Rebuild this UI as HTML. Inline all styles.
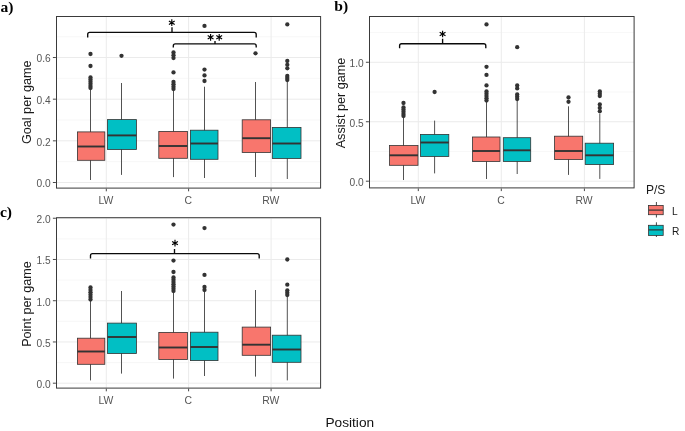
<!DOCTYPE html>
<html><head><meta charset="utf-8"><title>Boxplots</title>
<style>
html,body{margin:0;padding:0;background:#fff;}
body{width:685px;height:431px;overflow:hidden;font-family:"Liberation Sans",sans-serif;}
svg{display:block;font-family:"Liberation Sans",sans-serif;opacity:0.999;will-change:transform;}
</style></head><body>
<svg width="685" height="431" viewBox="0 0 685 431">
<rect width="685" height="431" fill="#fff"/>
<rect x="56.5" y="16.5" width="264.1" height="171.6" fill="#fff"/>
<line x1="56.5" x2="320.6" y1="161.67" y2="161.67" stroke="#F2F2F2" stroke-width="0.6"/>
<line x1="56.5" x2="320.6" y1="120.01" y2="120.01" stroke="#F2F2F2" stroke-width="0.6"/>
<line x1="56.5" x2="320.6" y1="78.35" y2="78.35" stroke="#F2F2F2" stroke-width="0.6"/>
<line x1="56.5" x2="320.6" y1="36.69" y2="36.69" stroke="#F2F2F2" stroke-width="0.6"/>
<line x1="56.5" x2="320.6" y1="182.5" y2="182.5" stroke="#EBEBEB" stroke-width="1"/>
<line x1="56.5" x2="320.6" y1="140.84" y2="140.84" stroke="#EBEBEB" stroke-width="1"/>
<line x1="56.5" x2="320.6" y1="99.18" y2="99.18" stroke="#EBEBEB" stroke-width="1"/>
<line x1="56.5" x2="320.6" y1="57.52" y2="57.52" stroke="#EBEBEB" stroke-width="1"/>
<line x1="106.3" x2="106.3" y1="16.5" y2="188.1" stroke="#EBEBEB" stroke-width="1"/>
<line x1="188.6" x2="188.6" y1="16.5" y2="188.1" stroke="#EBEBEB" stroke-width="1"/>
<line x1="271.1" x2="271.1" y1="16.5" y2="188.1" stroke="#EBEBEB" stroke-width="1"/>
<line x1="90.5" x2="90.5" y1="85" y2="180" stroke="#333333" stroke-width="0.85"/>
<rect x="77.4" y="131.9" width="27.4" height="28.4" fill="#F8766D" stroke="#333333" stroke-width="0.8"/>
<line x1="77.4" x2="104.8" y1="146.5" y2="146.5" stroke="#333333" stroke-width="1.9"/>
<circle cx="90.5" cy="54" r="2.15" fill="#333333"/>
<circle cx="90.5" cy="66" r="2.15" fill="#333333"/>
<circle cx="90.5" cy="77.5" r="2.15" fill="#333333"/>
<circle cx="90.5" cy="79.6" r="2.15" fill="#333333"/>
<circle cx="90.5" cy="81.7" r="2.15" fill="#333333"/>
<circle cx="90.5" cy="83.8" r="2.15" fill="#333333"/>
<circle cx="90.5" cy="85.9" r="2.15" fill="#333333"/>
<circle cx="90.5" cy="88" r="2.15" fill="#333333"/>
<line x1="121.5" x2="121.5" y1="83" y2="174.9" stroke="#333333" stroke-width="0.85"/>
<rect x="107.5" y="119.6" width="28.9" height="29.9" fill="#00BFC4" stroke="#333333" stroke-width="0.8"/>
<line x1="107.5" x2="136.4" y1="135.4" y2="135.4" stroke="#333333" stroke-width="1.9"/>
<circle cx="121.5" cy="55.8" r="2.15" fill="#333333"/>
<line x1="173.5" x2="173.5" y1="88" y2="177.1" stroke="#333333" stroke-width="0.85"/>
<rect x="158.8" y="131.4" width="28.6" height="26.9" fill="#F8766D" stroke="#333333" stroke-width="0.8"/>
<line x1="158.8" x2="187.4" y1="146" y2="146" stroke="#333333" stroke-width="1.9"/>
<circle cx="173.5" cy="52.5" r="2.15" fill="#333333"/>
<circle cx="173.5" cy="55.25" r="2.15" fill="#333333"/>
<circle cx="173.5" cy="58" r="2.15" fill="#333333"/>
<circle cx="173.5" cy="72.4" r="2.15" fill="#333333"/>
<circle cx="173.5" cy="82" r="2.15" fill="#333333"/>
<circle cx="173.5" cy="84.33" r="2.15" fill="#333333"/>
<circle cx="173.5" cy="86.67" r="2.15" fill="#333333"/>
<circle cx="173.5" cy="89" r="2.15" fill="#333333"/>
<line x1="204.5" x2="204.5" y1="86.7" y2="178" stroke="#333333" stroke-width="0.85"/>
<rect x="190.4" y="130.2" width="27.6" height="29.1" fill="#00BFC4" stroke="#333333" stroke-width="0.8"/>
<line x1="190.4" x2="218" y1="143.5" y2="143.5" stroke="#333333" stroke-width="1.9"/>
<circle cx="204.5" cy="25.9" r="2.15" fill="#333333"/>
<circle cx="204.5" cy="69.6" r="2.15" fill="#333333"/>
<circle cx="204.5" cy="75.4" r="2.15" fill="#333333"/>
<circle cx="204.5" cy="81" r="2.15" fill="#333333"/>
<line x1="255.5" x2="255.5" y1="82" y2="177" stroke="#333333" stroke-width="0.85"/>
<rect x="242.2" y="119.8" width="28.4" height="32.7" fill="#F8766D" stroke="#333333" stroke-width="0.8"/>
<line x1="242.2" x2="270.6" y1="138.2" y2="138.2" stroke="#333333" stroke-width="1.9"/>
<circle cx="255.5" cy="53.3" r="2.15" fill="#333333"/>
<line x1="287.3" x2="287.3" y1="80" y2="179" stroke="#333333" stroke-width="0.85"/>
<rect x="272.3" y="127.4" width="28.7" height="31.1" fill="#00BFC4" stroke="#333333" stroke-width="0.8"/>
<line x1="272.3" x2="301" y1="143.5" y2="143.5" stroke="#333333" stroke-width="1.9"/>
<circle cx="287.3" cy="24.4" r="2.15" fill="#333333"/>
<circle cx="287.3" cy="61" r="2.15" fill="#333333"/>
<circle cx="287.3" cy="64.8" r="2.15" fill="#333333"/>
<circle cx="287.3" cy="68.3" r="2.15" fill="#333333"/>
<circle cx="287.3" cy="76" r="2.15" fill="#333333"/>
<circle cx="287.3" cy="78" r="2.15" fill="#333333"/>
<circle cx="287.3" cy="80" r="2.15" fill="#333333"/>
<path d="M87.7 37.4 V34.4 Q87.7 32.4 89.7 32.4 H254.2 Q256.2 32.4 256.2 34.4 V37.4 M172 32.4 V27.2" fill="none" stroke="#0a0a0a" stroke-width="1.35"/>
<path d="M171.8 19.35 V26.05 M168.9 21.02 L174.7 24.38 M168.9 24.38 L174.7 21.02" fill="none" stroke="#000" stroke-width="1.15"/>
<path d="M173.3 47.5 V45.9 Q173.3 43.9 175.3 43.9 H254.2 Q256.2 43.9 256.2 45.9 V47.5 M215 43.9 V40.9" fill="none" stroke="#0a0a0a" stroke-width="1.35"/>
<path d="M210.6 33.95 V40.65 M207.7 35.62 L213.5 38.97 M207.7 38.97 L213.5 35.62" fill="none" stroke="#000" stroke-width="1.15"/>
<path d="M219.2 33.95 V40.65 M216.3 35.62 L222.1 38.97 M216.3 38.97 L222.1 35.62" fill="none" stroke="#000" stroke-width="1.15"/>
<rect x="56.5" y="16.5" width="264.1" height="171.6" fill="none" stroke="#3a3a3a" stroke-width="1"/>
<line x1="52.9" x2="55.9" y1="182.5" y2="182.5" stroke="#333333" stroke-width="0.9"/>
<text x="50.7" y="187.4" text-anchor="end" font-size="10.2" fill="#555555">0.0</text>
<line x1="52.9" x2="55.9" y1="140.84" y2="140.84" stroke="#333333" stroke-width="0.9"/>
<text x="50.7" y="145.74" text-anchor="end" font-size="10.2" fill="#555555">0.2</text>
<line x1="52.9" x2="55.9" y1="99.18" y2="99.18" stroke="#333333" stroke-width="0.9"/>
<text x="50.7" y="104.08" text-anchor="end" font-size="10.2" fill="#555555">0.4</text>
<line x1="52.9" x2="55.9" y1="57.52" y2="57.52" stroke="#333333" stroke-width="0.9"/>
<text x="50.7" y="62.42" text-anchor="end" font-size="10.2" fill="#555555">0.6</text>
<line x1="106.3" x2="106.3" y1="188.7" y2="191.3" stroke="#333333" stroke-width="0.9"/>
<text x="105.9" y="203.8" text-anchor="middle" font-size="10.4" fill="#555555">LW</text>
<line x1="188.6" x2="188.6" y1="188.7" y2="191.3" stroke="#333333" stroke-width="0.9"/>
<text x="188.2" y="203.8" text-anchor="middle" font-size="10.4" fill="#555555">C</text>
<line x1="271.1" x2="271.1" y1="188.7" y2="191.3" stroke="#333333" stroke-width="0.9"/>
<text x="270.7" y="203.8" text-anchor="middle" font-size="10.4" fill="#555555">RW</text>
<text transform="translate(31 102.3) rotate(-90)" text-anchor="middle" font-size="12.65" fill="#1a1a1a">Goal per game</text>
<rect x="369.5" y="16.5" width="264.6" height="171.4" fill="#fff"/>
<line x1="369.5" x2="634.1" y1="151.47" y2="151.47" stroke="#F2F2F2" stroke-width="0.6"/>
<line x1="369.5" x2="634.1" y1="92.01" y2="92.01" stroke="#F2F2F2" stroke-width="0.6"/>
<line x1="369.5" x2="634.1" y1="32.55" y2="32.55" stroke="#F2F2F2" stroke-width="0.6"/>
<line x1="369.5" x2="634.1" y1="181.2" y2="181.2" stroke="#EBEBEB" stroke-width="1"/>
<line x1="369.5" x2="634.1" y1="121.74" y2="121.74" stroke="#EBEBEB" stroke-width="1"/>
<line x1="369.5" x2="634.1" y1="62.28" y2="62.28" stroke="#EBEBEB" stroke-width="1"/>
<line x1="418.3" x2="418.3" y1="16.5" y2="187.9" stroke="#EBEBEB" stroke-width="1"/>
<line x1="501.3" x2="501.3" y1="16.5" y2="187.9" stroke="#EBEBEB" stroke-width="1"/>
<line x1="584.4" x2="584.4" y1="16.5" y2="187.9" stroke="#EBEBEB" stroke-width="1"/>
<line x1="403.5" x2="403.5" y1="116" y2="180" stroke="#333333" stroke-width="0.85"/>
<rect x="389.5" y="145.5" width="28.5" height="19.8" fill="#F8766D" stroke="#333333" stroke-width="0.8"/>
<line x1="389.5" x2="418" y1="155.3" y2="155.3" stroke="#333333" stroke-width="1.9"/>
<circle cx="403.5" cy="103" r="2.15" fill="#333333"/>
<circle cx="403.5" cy="107.5" r="2.15" fill="#333333"/>
<circle cx="403.5" cy="109.62" r="2.15" fill="#333333"/>
<circle cx="403.5" cy="111.75" r="2.15" fill="#333333"/>
<circle cx="403.5" cy="113.88" r="2.15" fill="#333333"/>
<circle cx="403.5" cy="116" r="2.15" fill="#333333"/>
<line x1="434.6" x2="434.6" y1="120.6" y2="173.4" stroke="#333333" stroke-width="0.85"/>
<rect x="420.5" y="134.4" width="28.3" height="22.1" fill="#00BFC4" stroke="#333333" stroke-width="0.8"/>
<line x1="420.5" x2="448.8" y1="142.5" y2="142.5" stroke="#333333" stroke-width="1.9"/>
<circle cx="434.6" cy="92" r="2.15" fill="#333333"/>
<line x1="486.5" x2="486.5" y1="101" y2="179" stroke="#333333" stroke-width="0.85"/>
<rect x="472.5" y="137" width="27.5" height="24.5" fill="#F8766D" stroke="#333333" stroke-width="0.8"/>
<line x1="472.5" x2="500" y1="151" y2="151" stroke="#333333" stroke-width="1.9"/>
<circle cx="486.5" cy="24.4" r="2.15" fill="#333333"/>
<circle cx="486.5" cy="66.8" r="2.15" fill="#333333"/>
<circle cx="486.5" cy="74.9" r="2.15" fill="#333333"/>
<circle cx="486.5" cy="85.4" r="2.15" fill="#333333"/>
<circle cx="486.5" cy="91.5" r="2.15" fill="#333333"/>
<circle cx="486.5" cy="93.75" r="2.15" fill="#333333"/>
<circle cx="486.5" cy="96" r="2.15" fill="#333333"/>
<circle cx="486.5" cy="98.25" r="2.15" fill="#333333"/>
<circle cx="486.5" cy="100.5" r="2.15" fill="#333333"/>
<line x1="517.2" x2="517.2" y1="100" y2="174" stroke="#333333" stroke-width="0.85"/>
<rect x="503.3" y="137.7" width="27.4" height="23.8" fill="#00BFC4" stroke="#333333" stroke-width="0.8"/>
<line x1="503.3" x2="530.7" y1="150.3" y2="150.3" stroke="#333333" stroke-width="1.9"/>
<circle cx="517.2" cy="47.2" r="2.15" fill="#333333"/>
<circle cx="517.2" cy="85.4" r="2.15" fill="#333333"/>
<circle cx="517.2" cy="88.4" r="2.15" fill="#333333"/>
<circle cx="517.2" cy="94.5" r="2.15" fill="#333333"/>
<circle cx="517.2" cy="96.75" r="2.15" fill="#333333"/>
<circle cx="517.2" cy="99" r="2.15" fill="#333333"/>
<line x1="568.5" x2="568.5" y1="106.3" y2="174.9" stroke="#333333" stroke-width="0.85"/>
<rect x="554.6" y="136.2" width="28.1" height="23.3" fill="#F8766D" stroke="#333333" stroke-width="0.8"/>
<line x1="554.6" x2="582.7" y1="151" y2="151" stroke="#333333" stroke-width="1.9"/>
<circle cx="568.5" cy="97.5" r="2.15" fill="#333333"/>
<circle cx="568.5" cy="101.8" r="2.15" fill="#333333"/>
<line x1="599.8" x2="599.8" y1="113.8" y2="178.9" stroke="#333333" stroke-width="0.85"/>
<rect x="585.2" y="143.2" width="28.4" height="21.4" fill="#00BFC4" stroke="#333333" stroke-width="0.8"/>
<line x1="585.2" x2="613.6" y1="155.3" y2="155.3" stroke="#333333" stroke-width="1.9"/>
<circle cx="599.8" cy="91.5" r="2.15" fill="#333333"/>
<circle cx="599.8" cy="93.75" r="2.15" fill="#333333"/>
<circle cx="599.8" cy="96" r="2.15" fill="#333333"/>
<circle cx="599.8" cy="104.4" r="2.15" fill="#333333"/>
<circle cx="599.8" cy="108" r="2.15" fill="#333333"/>
<circle cx="599.8" cy="111.3" r="2.15" fill="#333333"/>
<path d="M399.6 48.2 V45.7 Q399.6 43.7 401.6 43.7 H483.8 Q485.8 43.7 485.8 45.7 V48.2 M442.6 43.7 V38.7" fill="none" stroke="#0a0a0a" stroke-width="1.35"/>
<path d="M442.6 30.65 V37.35 M439.7 32.33 L445.5 35.67 M439.7 35.67 L445.5 32.33" fill="none" stroke="#000" stroke-width="1.15"/>
<rect x="369.5" y="16.5" width="264.6" height="171.4" fill="none" stroke="#3a3a3a" stroke-width="1"/>
<line x1="365.9" x2="368.9" y1="181.2" y2="181.2" stroke="#333333" stroke-width="0.9"/>
<text x="363.7" y="186.1" text-anchor="end" font-size="10.2" fill="#555555">0.0</text>
<line x1="365.9" x2="368.9" y1="121.74" y2="121.74" stroke="#333333" stroke-width="0.9"/>
<text x="363.7" y="126.64" text-anchor="end" font-size="10.2" fill="#555555">0.5</text>
<line x1="365.9" x2="368.9" y1="62.28" y2="62.28" stroke="#333333" stroke-width="0.9"/>
<text x="363.7" y="67.18" text-anchor="end" font-size="10.2" fill="#555555">1.0</text>
<line x1="418.3" x2="418.3" y1="188.5" y2="191.1" stroke="#333333" stroke-width="0.9"/>
<text x="417.9" y="203.8" text-anchor="middle" font-size="10.4" fill="#555555">LW</text>
<line x1="501.3" x2="501.3" y1="188.5" y2="191.1" stroke="#333333" stroke-width="0.9"/>
<text x="500.9" y="203.8" text-anchor="middle" font-size="10.4" fill="#555555">C</text>
<line x1="584.4" x2="584.4" y1="188.5" y2="191.1" stroke="#333333" stroke-width="0.9"/>
<text x="584" y="203.8" text-anchor="middle" font-size="10.4" fill="#555555">RW</text>
<text transform="translate(344.7 103) rotate(-90)" text-anchor="middle" font-size="12.65" fill="#1a1a1a">Assist per game</text>
<rect x="56.5" y="217.7" width="264.1" height="170.4" fill="#fff"/>
<line x1="56.5" x2="320.6" y1="362.58" y2="362.58" stroke="#F2F2F2" stroke-width="0.6"/>
<line x1="56.5" x2="320.6" y1="321.34" y2="321.34" stroke="#F2F2F2" stroke-width="0.6"/>
<line x1="56.5" x2="320.6" y1="280.1" y2="280.1" stroke="#F2F2F2" stroke-width="0.6"/>
<line x1="56.5" x2="320.6" y1="238.86" y2="238.86" stroke="#F2F2F2" stroke-width="0.6"/>
<line x1="56.5" x2="320.6" y1="383.2" y2="383.2" stroke="#EBEBEB" stroke-width="1"/>
<line x1="56.5" x2="320.6" y1="341.96" y2="341.96" stroke="#EBEBEB" stroke-width="1"/>
<line x1="56.5" x2="320.6" y1="300.72" y2="300.72" stroke="#EBEBEB" stroke-width="1"/>
<line x1="56.5" x2="320.6" y1="259.48" y2="259.48" stroke="#EBEBEB" stroke-width="1"/>
<line x1="56.5" x2="320.6" y1="218.24" y2="218.24" stroke="#EBEBEB" stroke-width="1"/>
<line x1="106.3" x2="106.3" y1="217.7" y2="388.1" stroke="#EBEBEB" stroke-width="1"/>
<line x1="188.6" x2="188.6" y1="217.7" y2="388.1" stroke="#EBEBEB" stroke-width="1"/>
<line x1="271.1" x2="271.1" y1="217.7" y2="388.1" stroke="#EBEBEB" stroke-width="1"/>
<line x1="90.5" x2="90.5" y1="300" y2="380.4" stroke="#333333" stroke-width="0.85"/>
<rect x="77.4" y="338.2" width="27.4" height="26.1" fill="#F8766D" stroke="#333333" stroke-width="0.8"/>
<line x1="77.4" x2="104.8" y1="351.5" y2="351.5" stroke="#333333" stroke-width="1.9"/>
<circle cx="90.5" cy="287.5" r="2.15" fill="#333333"/>
<circle cx="90.5" cy="289.9" r="2.15" fill="#333333"/>
<circle cx="90.5" cy="292.3" r="2.15" fill="#333333"/>
<circle cx="90.5" cy="294.7" r="2.15" fill="#333333"/>
<circle cx="90.5" cy="297.1" r="2.15" fill="#333333"/>
<circle cx="90.5" cy="299.5" r="2.15" fill="#333333"/>
<line x1="121.5" x2="121.5" y1="291" y2="373.6" stroke="#333333" stroke-width="0.85"/>
<rect x="107.5" y="323.1" width="28.9" height="30.4" fill="#00BFC4" stroke="#333333" stroke-width="0.8"/>
<line x1="107.5" x2="136.4" y1="337" y2="337" stroke="#333333" stroke-width="1.9"/>
<line x1="173.5" x2="173.5" y1="292" y2="378.6" stroke="#333333" stroke-width="0.85"/>
<rect x="158.8" y="332.4" width="28.6" height="27.1" fill="#F8766D" stroke="#333333" stroke-width="0.8"/>
<line x1="158.8" x2="187.4" y1="347.5" y2="347.5" stroke="#333333" stroke-width="1.9"/>
<circle cx="173.5" cy="224.6" r="2.15" fill="#333333"/>
<circle cx="173.5" cy="260.6" r="2.15" fill="#333333"/>
<circle cx="173.5" cy="272" r="2.15" fill="#333333"/>
<circle cx="173.5" cy="277.5" r="2.15" fill="#333333"/>
<circle cx="173.5" cy="279.75" r="2.15" fill="#333333"/>
<circle cx="173.5" cy="282" r="2.15" fill="#333333"/>
<circle cx="173.5" cy="284.25" r="2.15" fill="#333333"/>
<circle cx="173.5" cy="286.5" r="2.15" fill="#333333"/>
<circle cx="173.5" cy="288.75" r="2.15" fill="#333333"/>
<circle cx="173.5" cy="291" r="2.15" fill="#333333"/>
<line x1="204.5" x2="204.5" y1="291.7" y2="376" stroke="#333333" stroke-width="0.85"/>
<rect x="190.4" y="332.2" width="27.6" height="28.4" fill="#00BFC4" stroke="#333333" stroke-width="0.8"/>
<line x1="190.4" x2="218" y1="347" y2="347" stroke="#333333" stroke-width="1.9"/>
<circle cx="204.5" cy="228.1" r="2.15" fill="#333333"/>
<circle cx="204.5" cy="274.9" r="2.15" fill="#333333"/>
<circle cx="204.5" cy="287" r="2.15" fill="#333333"/>
<circle cx="204.5" cy="290" r="2.15" fill="#333333"/>
<line x1="255.5" x2="255.5" y1="290" y2="376.6" stroke="#333333" stroke-width="0.85"/>
<rect x="242.2" y="327.1" width="28.4" height="28.2" fill="#F8766D" stroke="#333333" stroke-width="0.8"/>
<line x1="242.2" x2="270.6" y1="344.7" y2="344.7" stroke="#333333" stroke-width="1.9"/>
<line x1="287.3" x2="287.3" y1="295" y2="380.4" stroke="#333333" stroke-width="0.85"/>
<rect x="272.3" y="335.2" width="28.7" height="27.1" fill="#00BFC4" stroke="#333333" stroke-width="0.8"/>
<line x1="272.3" x2="301" y1="349.5" y2="349.5" stroke="#333333" stroke-width="1.9"/>
<circle cx="287.3" cy="259.5" r="2.15" fill="#333333"/>
<circle cx="287.3" cy="284.7" r="2.15" fill="#333333"/>
<circle cx="287.3" cy="290.5" r="2.15" fill="#333333"/>
<circle cx="287.3" cy="292.75" r="2.15" fill="#333333"/>
<circle cx="287.3" cy="295" r="2.15" fill="#333333"/>
<path d="M90.5 258.6 V255.6 Q90.5 253.6 92.5 253.6 H257.2 Q259.2 253.6 259.2 255.6 V258.6 M174.5 253.6 V249" fill="none" stroke="#0a0a0a" stroke-width="1.35"/>
<path d="M175 239.75 V246.45 M172.1 241.42 L177.9 244.78 M172.1 244.78 L177.9 241.42" fill="none" stroke="#000" stroke-width="1.15"/>
<rect x="56.5" y="217.7" width="264.1" height="170.4" fill="none" stroke="#3a3a3a" stroke-width="1"/>
<line x1="52.9" x2="55.9" y1="383.2" y2="383.2" stroke="#333333" stroke-width="0.9"/>
<text x="50.7" y="388.1" text-anchor="end" font-size="10.2" fill="#555555">0.0</text>
<line x1="52.9" x2="55.9" y1="341.96" y2="341.96" stroke="#333333" stroke-width="0.9"/>
<text x="50.7" y="346.86" text-anchor="end" font-size="10.2" fill="#555555">0.5</text>
<line x1="52.9" x2="55.9" y1="300.72" y2="300.72" stroke="#333333" stroke-width="0.9"/>
<text x="50.7" y="305.62" text-anchor="end" font-size="10.2" fill="#555555">1.0</text>
<line x1="52.9" x2="55.9" y1="259.48" y2="259.48" stroke="#333333" stroke-width="0.9"/>
<text x="50.7" y="264.38" text-anchor="end" font-size="10.2" fill="#555555">1.5</text>
<line x1="52.9" x2="55.9" y1="218.24" y2="218.24" stroke="#333333" stroke-width="0.9"/>
<text x="50.7" y="223.14" text-anchor="end" font-size="10.2" fill="#555555">2.0</text>
<line x1="106.3" x2="106.3" y1="388.7" y2="391.3" stroke="#333333" stroke-width="0.9"/>
<text x="105.9" y="403.8" text-anchor="middle" font-size="10.4" fill="#555555">LW</text>
<line x1="188.6" x2="188.6" y1="388.7" y2="391.3" stroke="#333333" stroke-width="0.9"/>
<text x="188.2" y="403.8" text-anchor="middle" font-size="10.4" fill="#555555">C</text>
<line x1="271.1" x2="271.1" y1="388.7" y2="391.3" stroke="#333333" stroke-width="0.9"/>
<text x="270.7" y="403.8" text-anchor="middle" font-size="10.4" fill="#555555">RW</text>
<text transform="translate(31 304) rotate(-90)" text-anchor="middle" font-size="12.65" fill="#1a1a1a">Point per game</text>
<text x="0.5" y="11.8" font-family="Liberation Serif, serif" font-weight="bold" font-size="15.6" fill="#000">a)</text>
<text x="334.3" y="10.7" font-family="Liberation Serif, serif" font-weight="bold" font-size="15.6" fill="#000">b)</text>
<text x="-0.1" y="216.9" font-family="Liberation Serif, serif" font-weight="bold" font-size="15.6" fill="#000">c)</text>
<text x="349.8" y="427" text-anchor="middle" font-size="13.7" fill="#111">Position</text>
<text x="646" y="193.6" font-size="12" fill="#1a1a1a">P/S</text>
<line x1="656.4" x2="656.4" y1="202" y2="217.5" stroke="#333333" stroke-width="0.9"/>
<rect x="648.6" y="205.4" width="14.6" height="9.3" fill="#F8766D" stroke="#333333" stroke-width="0.8"/>
<line x1="648.6" x2="663.2" y1="210.1" y2="210.1" stroke="#333333" stroke-width="1.2"/>
<text x="672" y="215" font-size="10.2" fill="#1a1a1a">L</text>
<line x1="656.4" x2="656.4" y1="222.3" y2="237" stroke="#333333" stroke-width="0.9"/>
<rect x="648.6" y="225.3" width="14.6" height="10.1" fill="#00BFC4" stroke="#333333" stroke-width="0.8"/>
<line x1="648.6" x2="663.2" y1="229.9" y2="229.9" stroke="#333333" stroke-width="1.2"/>
<text x="672" y="234.5" font-size="10.2" fill="#1a1a1a">R</text>
</svg>
</body></html>
